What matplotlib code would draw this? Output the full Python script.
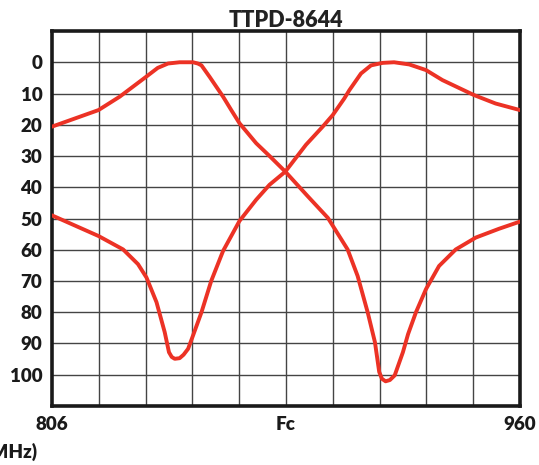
import numpy as np
import matplotlib
matplotlib.use("Agg")
import matplotlib.pyplot as plt

plt.rcParams['font.family'] = ['Lato', 'DejaVu Sans']

TITLE = 'TTPD-8644'
X_MIN, X_MAX = 806, 960
X_TICKS = [806, 883, 960]
X_TICK_LABELS = ['806', 'Fc', '960']
Y_TICKS = [0, 10, 20, 30, 40, 50, 60, 70, 80, 90, 100]

# curva 1: pasa banda baja, notch a la derecha (MHz, dB)
f1 = [806, 821.3, 828.3, 836.9, 840.8, 844.2, 848.0, 852.4, 854.0, 855.2,
      857.9, 862.3, 865.0, 867.7, 873.2, 877.6, 882.8, 890.2, 896.8, 903.3,
      906.6, 909.9, 912.3, 913.7, 914.6, 915.8, 917.2, 918.8, 921.5, 923.2,
      925.8, 929.1, 933.4, 938.9, 945.5, 953.1, 960]
a1 = [20.6, 15.3, 11.0, 4.7, 1.8, 0.4, 0.0, 0.0, 0.4, 1.0,
      4.7, 11.0, 15.3, 19.5, 25.9, 30.0, 35.0, 42.9, 49.8, 59.9,
      68.4, 80.0, 89.6, 99.1, 101.3, 102.1, 101.7, 100.2, 92.8, 87.0,
      80.0, 72.6, 65.2, 59.9, 56.1, 53.3, 51.0]

# curva 2: pasa banda alta, notch a la izquierda
f2 = [806, 821.3, 829.4, 834.3, 837.1, 840.4, 843.1, 844.5, 845.4, 846.4,
      848.0, 849.3, 850.8, 852.4, 855.2, 858.4, 862.3, 867.7, 873.2, 877.6,
      882.8, 889.6, 895.1, 898.4, 902.2, 903.9, 907.7, 911.0, 914.8, 918.6,
      923.6, 929.1, 934.5, 944.9, 952.0, 960]
a2 = [49.0, 55.6, 59.9, 64.6, 68.9, 76.8, 86.4, 92.8, 94.3, 94.9,
      94.7, 93.6, 91.7, 87.5, 80.0, 70.0, 60.4, 50.8, 44.0, 39.2,
      35.0, 26.4, 20.6, 16.9, 11.6, 8.9, 3.6, 1.0, 0.2, 0.0,
      0.7, 2.5, 5.7, 10.5, 13.2, 15.3]

red = '#ec3225'
ink = '#1a1a1a'

fig = plt.figure(figsize=(5.39, 4.65), dpi=100)
ax = fig.add_axes([0.0965, 0.1269, 0.868, 0.8064])

for f, a in [(f1, a1), (f2, a2)]:
    ax.plot(f, a, color=red, linewidth=2.8, solid_joinstyle='round',
            solid_capstyle='round', zorder=3)

ax.set_xlim(X_MIN, X_MAX)
ax.set_ylim(110, -10)

# rejilla
for xv in np.linspace(X_MIN, X_MAX, 11)[1:-1]:
    ax.axvline(xv, color='#444444', linewidth=1.0, zorder=1)
for yv in Y_TICKS:
    ax.axhline(yv, color='#444444', linewidth=1.0, zorder=1)

ax.set_xticks(X_TICKS)
ax.set_xticklabels(X_TICK_LABELS)
ax.set_yticks(Y_TICKS)
ax.tick_params(length=0, labelsize=13.5, pad=7)
for lbl in ax.get_xticklabels() + ax.get_yticklabels():
    lbl.set_fontweight('heavy')
    lbl.set_color(ink)

for s in ax.spines.values():
    s.set_linewidth(2.6)
    s.set_color(ink)

ax.set_title(TITLE, fontsize=15.5, fontweight='heavy', color='#222222', pad=3)
fig.text(38 / 539, 1 - 452 / 465, '(MHz)', ha='right', va='center',
         fontsize=13.5, fontweight='heavy', color=ink)

fig.savefig('out.png', dpi=100)
